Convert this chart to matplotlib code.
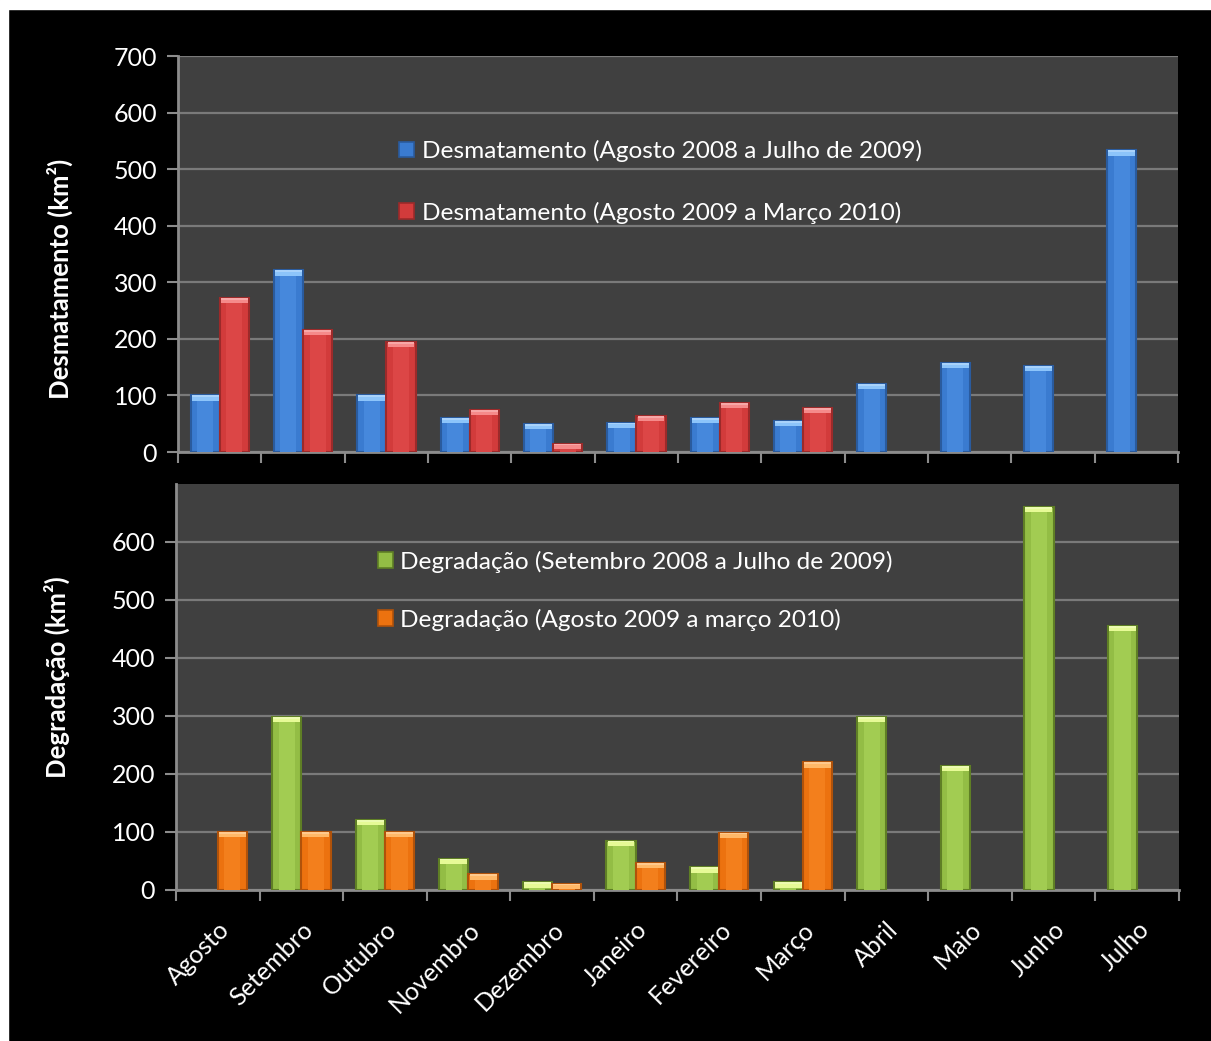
import numpy as np
import matplotlib
matplotlib.use("Agg")
import matplotlib.pyplot as plt
from matplotlib.patches import Patch, Rectangle


# Fonte
plt.rcParams['font.family'] = ['Lato', 'DejaVu Sans']

# Dados (km²)
MESES = ["Agosto", "Setembro", "Outubro", "Novembro", "Dezembro", "Janeiro",
         "Fevereiro", "Março", "Abril", "Maio", "Junho", "Julho"]

DESM_0809 = [100, 321, 100, 60, 49, 52, 60, 55, 120, 157, 152, 533]
DESM_0910 = [272, 215, 194, 74, 15, 64, 87, 78, None, None, None, None]

DEGR_0809 = [None, 298, 121, 54, 13, 85, 39, 13, 298, 214, 660, 455]
DEGR_0910 = [100, 100, 100, 27, 11, 46, 99, 220, None, None, None, None]

LBL_DESM_0809 = "Desmatamento (Agosto 2008 a Julho de 2009)"
LBL_DESM_0910 = "Desmatamento (Agosto 2009 a Março 2010)"
LBL_DEGR_0809 = "Degradação (Setembro 2008 a Julho de 2009)"
LBL_DEGR_0910 = "Degradação (Agosto 2009 a março 2010)"

Y_TICKS_TOP = [0, 100, 200, 300, 400, 500, 600, 700]
Y_TICKS_BOTTOM = [0, 100, 200, 300, 400, 500, 600]

# Cores: (principal, borda, centro, topo)
AZUL = ("#3a7bd0", "#2a5b9e", "#4688dc", "#8cc4fa")
VERMELHO = ("#d23b3b", "#9c2a2a", "#dc4646", "#f58a8a")
VERDE = ("#93bd45", "#5f7f25", "#a2cc52", "#e6fa96")
LARANJA = ("#ec720f", "#b0520a", "#f37f1c", "#ffb868")

BG_AX = "#404040"
GRID = "#7a7a7a"
AXIS = "#8c8c8c"

FONT_TICK = 18
FONT_LEG = 17.6
FONT_LABEL = 18.5
WIDTH = 0.35
CAP = 9


def to_arr(values):
    return np.array([np.nan if v is None else v for v in values], dtype=float)


def draw_bars(ax, pos, values, colors):
    vals = to_arr(values)
    main, edge, mid, top = colors
    ok = ~np.isnan(vals) & (vals > 0)
    x = pos[ok]
    v = vals[ok]

    ax.bar(x, v, WIDTH, color=main, edgecolor=edge, linewidth=1.5, zorder=3)
    ax.bar(x, v, WIDTH * 0.55, color=mid, linewidth=0, zorder=4)

    cap = np.minimum(v, CAP)
    ax.bar(x, cap, WIDTH * 0.92, bottom=v - cap, color=top, linewidth=0, zorder=5)
    ax.bar(x, cap * 0.35, WIDTH * 0.92, bottom=v - cap * 0.35, color="#ffffff",
           alpha=0.25, linewidth=0, zorder=6)


def style_axis(ax, y_ticks, ylabel, label_xy, show_months):
    n = len(MESES)
    ax.set_facecolor(BG_AX)
    ax.set_xlim(-0.5, n - 0.5)
    ax.set_ylim(0, 700)

    ax.set_yticks(y_ticks)
    ax.yaxis.grid(True, color=GRID, linewidth=1.6, zorder=0)
    ax.set_axisbelow(True)

    ax.set_xticks(np.arange(n))
    ax.set_xticks(np.arange(n + 1) - 0.5, minor=True)
    ax.tick_params(axis='x', which='major', length=0, pad=20)
    ax.tick_params(axis='x', which='minor', length=8, width=1.5, color=AXIS, direction='out')
    ax.tick_params(axis='y', length=8, width=1.5, color=AXIS, labelsize=FONT_TICK,
                   labelcolor='white', pad=7)

    if show_months:
        ax.set_xticklabels(MESES, rotation=45, ha='right', va='top',
                           rotation_mode='anchor', fontsize=FONT_TICK, color='white')
    else:
        ax.set_xticklabels([])

    for side in ("top", "right"):
        ax.spines[side].set_visible(False)
    for side in ("left", "bottom"):
        ax.spines[side].set_color(AXIS)
        ax.spines[side].set_linewidth(2)

    ax.set_ylabel(ylabel, fontsize=FONT_LABEL, fontweight='bold', color='white',
                  va='center', ha='center')
    ax.yaxis.set_label_coords(*label_xy)


def add_legend(ax, fig, items, x, y, spacing):
    handles = [Patch(facecolor=c[0], edgecolor=c[1], linewidth=1.2, label=l) for l, c in items]
    leg = ax.legend(handles=handles, loc='center left', bbox_to_anchor=(x, y),
                    bbox_transform=fig.transFigure, frameon=False, fontsize=FONT_LEG,
                    labelcolor='white', handlelength=0.62, handleheight=0.62,
                    handletextpad=0.3, labelspacing=spacing, borderpad=0, borderaxespad=0)
    return leg


def main():
    fig = plt.figure(figsize=(12.11, 10.41), dpi=100, facecolor='black')

    # moldura branca
    fig.patches.append(Rectangle((0, 0), 8 / 1211, 1, transform=fig.transFigure,
                                 color='white', zorder=0))
    fig.patches.append(Rectangle((0, 1 - 9 / 1041), 1, 9 / 1041, transform=fig.transFigure,
                                 color='white', zorder=0))

    ax1 = fig.add_axes([0.147, 0.5658, 0.8258, 0.3804])
    ax2 = fig.add_axes([0.1453, 0.1451, 0.8282, 0.3900])

    pos = np.arange(len(MESES))

    # Desmatamento
    draw_bars(ax1, pos - WIDTH / 2, DESM_0809, AZUL)
    draw_bars(ax1, pos + WIDTH / 2, DESM_0910, VERMELHO)
    style_axis(ax1, Y_TICKS_TOP, "Desmatamento (km²)", (-0.118, 0.437), False)
    add_legend(ax1, fig, [(LBL_DESM_0809, AZUL), (LBL_DESM_0910, VERMELHO)],
               0.3295, 0.8252, 1.62)

    # Degradação
    draw_bars(ax2, pos - WIDTH / 2, DEGR_0809, VERDE)
    draw_bars(ax2, pos + WIDTH / 2, DEGR_0910, LARANJA)
    style_axis(ax2, Y_TICKS_BOTTOM, "Degradação (km²)", (-0.119, 0.523), True)
    add_legend(ax2, fig, [(LBL_DEGR_0809, VERDE), (LBL_DEGR_0910, LARANJA)],
               0.3121, 0.4324, 1.47)

    fig.savefig("out.png", dpi=100, facecolor=fig.get_facecolor())


if __name__ == "__main__":
    main()
